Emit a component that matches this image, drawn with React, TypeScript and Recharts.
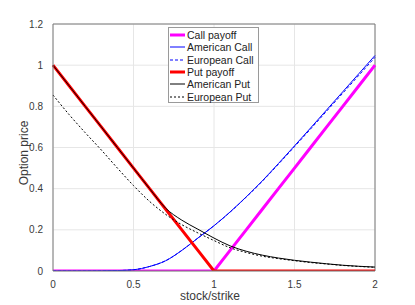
import React from "react";
import {
  LineChart,
  Line,
  XAxis,
  YAxis,
  CartesianGrid,
  ReferenceLine,
  Label,
} from "recharts";

const stockStrike = [0, 0.1, 0.2, 0.3, 0.4, 0.5, 0.6, 0.7, 0.8, 0.9, 1.0, 1.1, 1.2, 1.3, 1.4, 1.5, 1.6, 1.7, 1.8, 1.9, 2.0];
const callPayoff = [0, 0, 0, 0, 0, 0, 0, 0, 0, 0, 0, 0.1, 0.2, 0.3, 0.4, 0.5, 0.6, 0.7, 0.8, 0.9, 1.0];
const americanCall = [0, 0, 0, 0.0005, 0.002, 0.006, 0.022, 0.05, 0.1, 0.16, 0.22, 0.287, 0.36, 0.438, 0.522, 0.608, 0.695, 0.783, 0.871, 0.959, 1.047];
const europeanCall = [0, 0, 0, 0.0005, 0.002, 0.006, 0.022, 0.05, 0.1, 0.16, 0.22, 0.286, 0.359, 0.436, 0.519, 0.604, 0.69, 0.777, 0.864, 0.951, 1.038];
const putPayoff = [1.0, 0.9, 0.8, 0.7, 0.6, 0.5, 0.4, 0.3, 0.2, 0.1, 0, 0, 0, 0, 0, 0, 0, 0, 0, 0, 0];
const americanPut = [1.0, 0.9, 0.8, 0.7, 0.6, 0.5, 0.4, 0.305, 0.247, 0.203, 0.16, 0.122, 0.096, 0.077, 0.063, 0.052, 0.043, 0.035, 0.028, 0.023, 0.019];
const europeanPut = [0.855, 0.76, 0.672, 0.588, 0.5, 0.415, 0.338, 0.275, 0.225, 0.185, 0.148, 0.113, 0.09, 0.072, 0.06, 0.05, 0.041, 0.034, 0.027, 0.022, 0.018];

const xTicks = [0, 0.5, 1, 1.5, 2];
const yTicks = [0, 0.2, 0.4, 0.6, 0.8, 1, 1.2];

const data = stockStrike.map((s, i) => ({
  s,
  callPayoff: callPayoff[i],
  americanCall: americanCall[i],
  europeanCall: europeanCall[i],
  putPayoff: putPayoff[i],
  americanPut: americanPut[i],
  europeanPut: europeanPut[i],
}));

const legendItems = [
  { name: "Call payoff", color: "#ff00ff", width: 3, dash: undefined },
  { name: "American Call", color: "#0000ff", width: 1, dash: undefined },
  { name: "European Call", color: "#0000ff", width: 1, dash: "3 2" },
  { name: "Put payoff", color: "#ff0000", width: 3, dash: undefined },
  { name: "American Put", color: "#000000", width: 1, dash: undefined },
  { name: "European Put", color: "#000000", width: 1, dash: "2 2" },
];

const FONT = "'Liberation Sans', Arial, Helvetica, sans-serif";
const TEXT = "#3a3a3a";

const LegendBox = () => (
  <div
    style={{
      position: "absolute",
      left: 168,
      top: 27,
      width: 91,
      height: 76,
      border: "1px solid #9a9a9a",
      background: "#ffffff",
      boxSizing: "border-box",
      padding: "1px 0 0 0",
      fontFamily: FONT,
      fontSize: 10.5,
      color: "#222",
    }}
  >
    {legendItems.map((it) => (
      <div key={it.name} style={{ display: "flex", alignItems: "center", height: 12.3, lineHeight: "12px" }}>
        <svg width={17} height={12} style={{ flex: "none" }}>
          <line x1={1} y1={6} x2={16} y2={6} stroke={it.color} strokeWidth={it.width} strokeDasharray={it.dash} />
        </svg>
        <span style={{ marginLeft: 1, whiteSpace: "nowrap" }}>{it.name}</span>
      </div>
    ))}
  </div>
);

const fmt = (v: number) => String(v);

export default function App() {
  return (
    <div style={{ position: "absolute", left: 0, top: 0, width: 415, height: 305, background: "#fff" }}>
      <LineChart
        width={415}
        height={305}
        data={data}
        margin={{ top: 24, right: 40, left: 0, bottom: 0 }}
      >
        <CartesianGrid stroke="#e6e6e6" strokeWidth={1} horizontalValues={yTicks} verticalValues={xTicks} />
        <XAxis
          dataKey="s"
          type="number"
          domain={[0, 2]}
          ticks={xTicks}
          tickFormatter={fmt}
          height={34}
          stroke="#7a7a7a"
          tickLine={false}
          tick={{ fill: TEXT, fontSize: 10, fontFamily: FONT }}
          tickMargin={4}
          interval={0}
        >
          <Label
            content={() => (
              <text x={210} y={300} textAnchor="middle" fill={TEXT} fontSize={12} fontFamily={FONT}>
                stock/strike
              </text>
            )}
          />
        </XAxis>
        <YAxis
          type="number"
          domain={[0, 1.2]}
          ticks={yTicks}
          tickFormatter={fmt}
          width={53}
          stroke="#7a7a7a"
          tickLine={false}
          tick={{ fill: TEXT, fontSize: 10, fontFamily: FONT }}
          tickMargin={4}
          interval={0}
          allowDataOverflow
        >
          <Label
            content={() => (
              <text
                x={28}
                y={153}
                transform="rotate(-90 28 153)"
                textAnchor="middle"
                fill={TEXT}
                fontSize={12}
                fontFamily={FONT}
              >
                Option price
              </text>
            )}
          />
        </YAxis>
        <ReferenceLine y={1.2} stroke="#7a7a7a" strokeWidth={1} />
        <ReferenceLine x={2} stroke="#7a7a7a" strokeWidth={1} />
        <Line dataKey="callPayoff" stroke="#ff00ff" strokeWidth={3} dot={false} type="linear" isAnimationActive={false} />
        <Line dataKey="americanCall" stroke="#0000ff" strokeWidth={1} dot={false} type="monotone" isAnimationActive={false} />
        <Line dataKey="europeanCall" stroke="#0000ff" strokeWidth={1} strokeDasharray="3 2" dot={false} type="monotone" isAnimationActive={false} />
        <Line dataKey="putPayoff" stroke="#ff0000" strokeWidth={3} dot={false} type="linear" isAnimationActive={false} />
        <Line dataKey="americanPut" stroke="#000000" strokeWidth={1} dot={false} type="monotone" isAnimationActive={false} />
        <Line dataKey="europeanPut" stroke="#000000" strokeWidth={1} strokeDasharray="2 2" dot={false} type="monotone" isAnimationActive={false} />
      </LineChart>
      <LegendBox />
    </div>
  );
}
